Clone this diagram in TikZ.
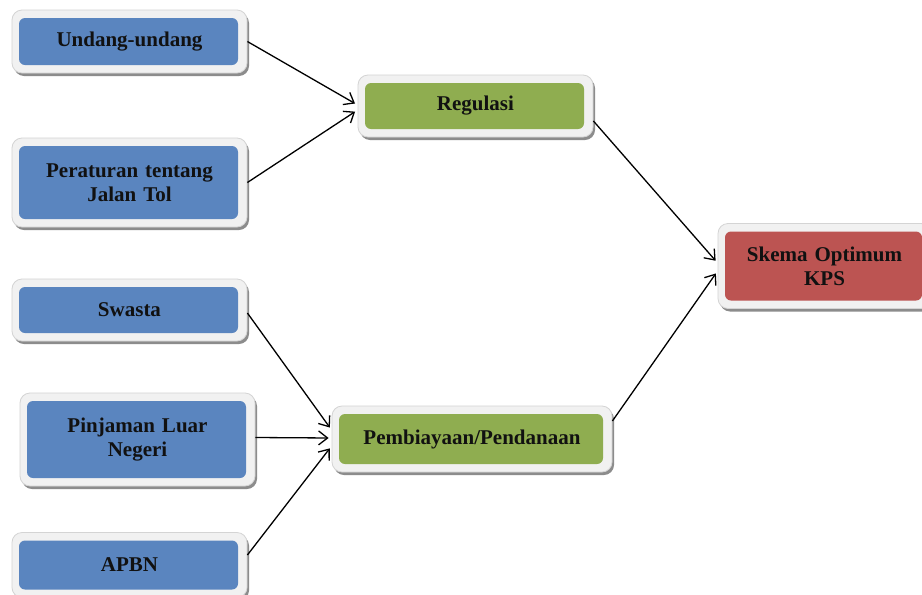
\documentclass[tikz,border=0pt]{standalone}
\usepackage{fontspec}
\setmainfont{Liberation Serif}
\usetikzlibrary{arrows.meta,shadows}

\definecolor{boxblue}{HTML}{5A85BF}
\definecolor{boxgreen}{HTML}{8FAD50}
\definecolor{boxred}{HTML}{BC5452}
\definecolor{framefill}{HTML}{F1F1F1}
\definecolor{frameline}{HTML}{D4D4D4}
\definecolor{shadowgray}{HTML}{8C8C8C}
\definecolor{textdark}{HTML}{111111}

\tikzset{
  card/.style={
    rounded corners=10pt, fill=framefill, draw=frameline, line width=0.8pt,
    minimum width=235pt, text width=220pt, align=center, inner sep=0pt,
    font=\fontsize{21}{24}\selectfont\bfseries, text=textdark,
    general shadow={shadow xshift=2pt, shadow yshift=-3pt, fill=shadowgray},
    path picture={
      \fill[#1, rounded corners=6pt]
        ([shift={(7pt,-8pt)}]path picture bounding box.north west) rectangle
        ([shift={(-9pt,8pt)}]path picture bounding box.south east);
    }
  },
  link/.style={-{Straight Barb[length=9pt,width=14pt]}, line width=1.3pt,
    shorten >=3pt, black}
}

\begin{document}
\begin{tikzpicture}[x=1pt,y=-1pt]
  \useasboundingbox (0,0) rectangle (922,595);
  \clip (0,0) rectangle (922,595);
  \fill[white] (0,0) rectangle (922,595);

  % sources: legal basis
  \node[card=boxblue, minimum height=63pt] (uu)  at (129.5,41.5)  {Undang-undang};
  \node[card=boxblue, minimum height=89pt] (per) at (129.5,182.5) {Peraturan tentang\\Jalan Tol};
  % sources: funding
  \node[card=boxblue, minimum height=62pt] (sw)  at (129.5,310)   {Swasta};
  \node[card=boxblue, minimum height=93pt] (pin) at (137.5,439.5) {Pinjaman Luar\\Negeri};
  \node[card=boxblue, minimum height=65pt] (apbn) at (129.5,565)  {APBN};

  % intermediate groups
  \node[card=boxgreen, minimum height=62pt] (reg) at (475.5,106) {Regulasi};
  \node[card=boxgreen, minimum height=66pt, minimum width=280pt, text width=270pt]
    (pemb) at (472,439) {Pembiayaan/Pendanaan};

  % result
  \node[card=boxred, minimum height=85pt, minimum width=213pt, text width=200pt]
    (kps) at (824.5,266) {Skema Optimum\\KPS};

  % connectors
  \draw[link] (uu.east)  -- ([yshift=1pt]reg.west);
  \draw[link] (per.east) -- ([yshift=-4pt]reg.west);
  \draw[link] ([yshift=-15pt]reg.east) -- ([yshift=3pt]kps.west);
  \draw[link] ([yshift=18pt]pemb.east) -- ([yshift=-5pt]kps.west);
  \draw[link] ([yshift=-3pt]sw.east) -- ([yshift=9pt]pemb.west);
  \draw[link] ([yshift=2pt]pin.east) -- ([yshift=1pt]pemb.west);
  \draw[link] ([yshift=10pt]apbn.east) -- ([yshift=-7pt]pemb.west);
\end{tikzpicture}
\end{document}
